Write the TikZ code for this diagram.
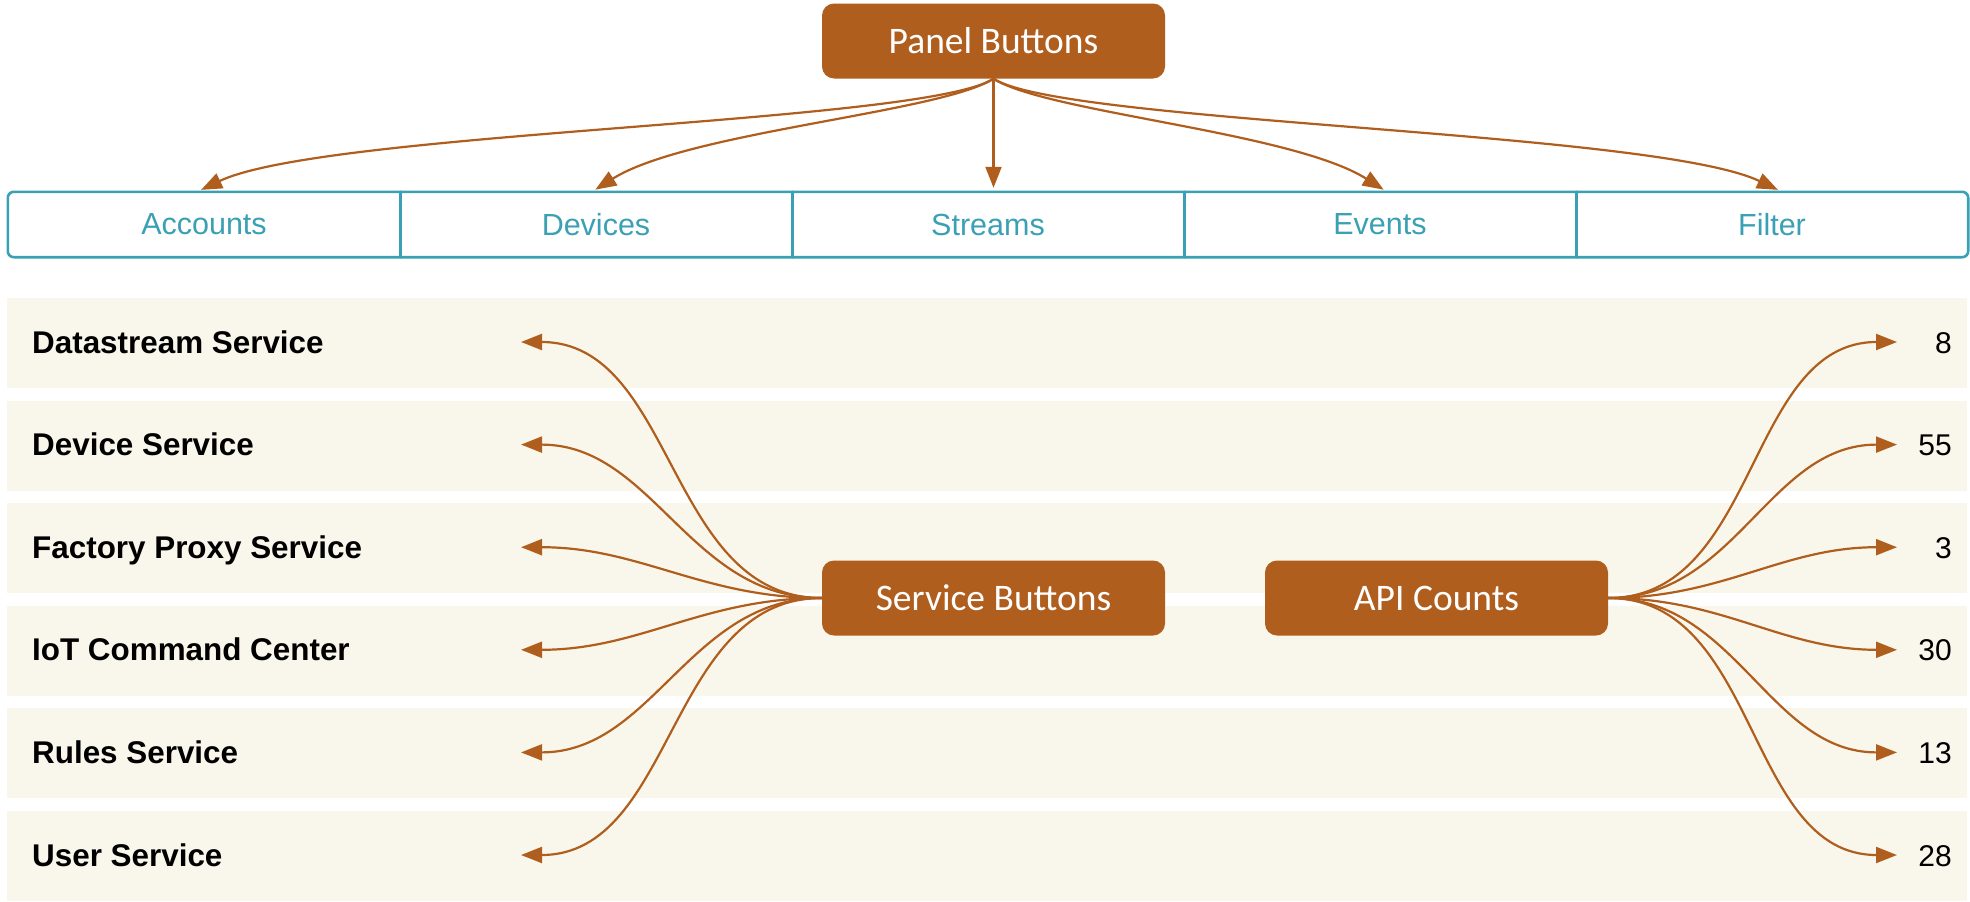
\documentclass[tikz,border=0pt]{standalone}
\usepackage{fontspec}
\setmainfont{Liberation Sans}
\newfontfamily\boxfont{Carlito}
\usetikzlibrary{arrows.meta}
\definecolor{rust}{RGB}{176,94,30}
\definecolor{tabteal}{RGB}{58,160,180}
\definecolor{cream}{RGB}{249,247,235}
\begin{document}
\begin{tikzpicture}[x=1pt,y=-1pt,>={Triangle[length=21pt,width=16pt]}, line join=round, line cap=round]
			\tikzset{hub/.style={fill=rust, rounded corners=12pt, minimum width=343pt, minimum height=75pt, text=white, font=\boxfont\fontsize{37.5}{42}\selectfont},
				tab/.style={minimum width=392pt, minimum height=65pt, text=tabteal, font=\fontsize{30.5}{34}\selectfont},
				link/.style={->, draw=rust, line width=2.2pt},
				svc/.style={anchor=base west, inner sep=0pt, font=\bfseries\fontsize{31.4}{35}\selectfont},
				cnt/.style={anchor=base east, inner sep=0pt, font=\fontsize{30}{34}\selectfont}}
			\def \rowtop{342}\def \rowgap{102.6}\def \tabw{392}
			\path[use as bounding box, fill=white] (0,0) rectangle (1970,902);
			\foreach \name/\num [count=\i] in {Datastream Service/8, Device Service/55, Factory Proxy Service/3, IoT Command Center/30, Rules Service/13, User Service/28}
			{
				\pgfmathsetmacro\cy{\rowtop+\rowgap*(\i-1)}
				\fill[cream] (7,\cy-44) rectangle (1967,\cy+46);
				\node[svc] (s\i) at (32,\cy+11) {\name};
				\node[cnt] (n\i) at (1952,\cy+11) {\num};
				\coordinate (sl\i) at (521,\cy);
				\coordinate (nr\i) at (1897,\cy);
			}
			\foreach \t/\lbl [count=\i] in {acc/Accounts, dev/Devices, str/Streams, evt/Events, flt/Filter}
			\node[tab] (\t) at (204+\tabw*\i-\tabw,224.5) {\lbl};
			\draw[tabteal, line width=2.6pt, rounded corners=6pt] (acc.north west) rectangle (flt.south east);
			\foreach \t in {acc,dev,str,evt}
			\draw[tabteal, line width=2.6pt] (\t.north east) -- (\t.south east);
			\node[hub] (panel) at (993.5,41) {Panel Buttons};
			\node[hub] (service) at (993.5,598) {Service Buttons};
			\node[hub] (api) at (1436.5,598) {API Counts};
			\draw[link, shorten >=4.5pt] (panel.south) .. controls +(-69,45) and +(128,-61) .. ([xshift=-7pt]acc.north);
			\draw[link, shorten >=4pt] (panel.south) .. controls +(-53,34) and +(95,-60) .. ([xshift=-4pt]dev.north);
			\draw[link, shorten >=4pt] (panel.south) -- (panel.south |- str.north);
			\draw[link, shorten >=4pt] (panel.south) .. controls +(53,34) and +(-95,-60) .. ([xshift=7pt]evt.north);
			\draw[link, shorten >=4.5pt] (panel.south) .. controls +(69,45) and +(-128,-61) .. ([xshift=10pt]flt.north);
			\foreach \i in {1,...,6}
			{
				\draw[link] (service.west) to[out=180,in=0] (sl\i);
				\draw[link] (api.east) to[out=0,in=180] (nr\i);
			}
	\end{tikzpicture}
\end{document}
